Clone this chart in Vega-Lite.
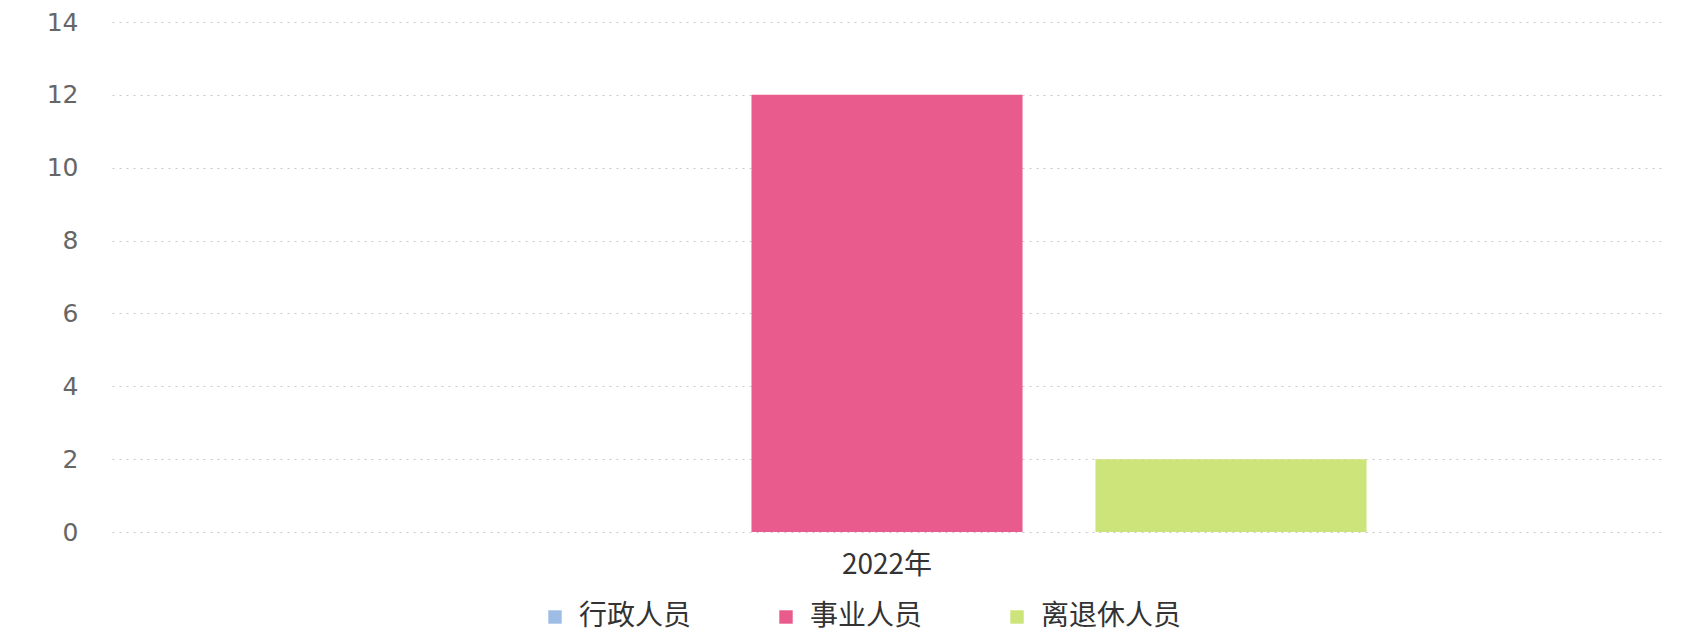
{
  "$schema": "https://vega.github.io/schema/vega-lite/v6.json",
  "width": 1550,
  "height": 510,
  "autosize": {"type": "none"},
  "padding": {"left": 112, "top": 22, "right": 36, "bottom": 102},
  "background": "white",
  "config": {"view": {"stroke": null}},
  "data": {
    "values": [
      {"year": "2022年", "type": "行政人员", "count": 0},
      {"year": "2022年", "type": "事业人员", "count": 12},
      {"year": "2022年", "type": "离退休人员", "count": 2}
    ]
  },
  "mark": {"type": "bar"},
  "encoding": {
    "x": {
      "field": "year",
      "type": "nominal",
      "scale": {"paddingInner": 0, "paddingOuter": 0.251},
      "axis": {
        "title": null,
        "labelAngle": 0,
        "domain": false,
        "ticks": false,
        "labelFontSize": 28,
        "labelColor": "#333333",
        "labelPadding": 19,
        "labelFont": "Noto Sans CJK SC"
      }
    },
    "xOffset": {
      "field": "type",
      "type": "nominal",
      "sort": ["行政人员", "事业人员", "离退休人员"],
      "scale": {"paddingInner": 0.212, "paddingOuter": 0.106}
    },
    "y": {
      "field": "count",
      "type": "quantitative",
      "scale": {"domain": [0, 14]},
      "axis": {
        "title": null,
        "values": [0, 2, 4, 6, 8, 10, 12, 14],
        "domain": false,
        "ticks": false,
        "labelPadding": 34,
        "labelFontSize": 25,
        "labelFont": "DejaVu Sans",
        "labelColor": "#666666",
        "gridDash": [2, 5],
        "gridColor": "#c8c8c8",
        "gridWidth": 1
      }
    },
    "color": {
      "field": "type",
      "type": "nominal",
      "sort": ["行政人员", "事业人员", "离退休人员"],
      "scale": {
        "domain": ["行政人员", "事业人员", "离退休人员"],
        "range": ["#9dbde6", "#e95b8c", "#cde47a"]
      },
      "legend": {
        "title": null,
        "orient": "none",
        "legendX": 429,
        "legendY": 581,
        "direction": "horizontal",
        "symbolType": "square",
        "symbolSize": 180,
        "symbolStrokeWidth": 0,
        "symbolOpacity": 1,
        "labelFontSize": 28,
        "labelFont": "Noto Sans CJK SC",
        "labelColor": "#333333",
        "labelOffset": 10,
        "columnPadding": 80
      }
    }
  }
}
